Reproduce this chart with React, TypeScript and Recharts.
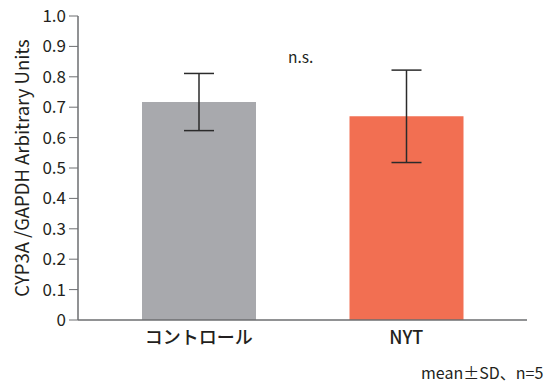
import React from 'react';
import { BarChart, Bar, XAxis, YAxis, ErrorBar, Cell } from 'recharts';

const groups = ['コントロール', 'NYT'];
const means = [0.717, 0.67];
const sds = [0.094, 0.152];
const barColors = ['#a8a9ad', '#f26f52'];
const yTicks = [0, 0.1, 0.2, 0.3, 0.4, 0.5, 0.6, 0.7, 0.8, 0.9, 1.0];

const data = groups.map((name, i) => ({ name, mean: means[i], sd: sds[i] }));

const font = '"Noto Sans CJK JP", "Noto Sans", sans-serif';
const textColor = '#231f20';

const fmtTick = (v: number) => (v === 0 ? '0' : v.toFixed(1));

const YLabel = () => (
  <text
    x={21}
    y={168}
    transform="rotate(-90, 21, 168)"
    textAnchor="middle"
    dominantBaseline="central"
    fontSize={18.5}
    fill={textColor}
    fontFamily={font}
  >
    CYP3A /GAPDH Arbitrary Units
  </text>
);

const App: React.FC = () => {
  return (
    <div style={{ position: 'absolute', left: 0, top: 0, width: 557, height: 385, background: '#fff', fontFamily: font, overflow: 'hidden' }}>
      <BarChart
        width={557}
        height={385}
        data={data}
        margin={{ top: 16, right: 30, left: 0, bottom: 35 }}
      >
        <XAxis
          dataKey="name"
          padding={{ left: 17, right: 17 }}
          tickLine={false}
          axisLine={{ stroke: '#6d6e71', strokeWidth: 1.5 }}
          tick={{ fill: textColor, fontSize: 18, fontWeight: 500, fontFamily: font }}
          tickMargin={5}
          height={30}
        />
        <YAxis
          domain={[0, 1]}
          ticks={yTicks}
          tickFormatter={fmtTick}
          width={78}
          axisLine={{ stroke: '#6d6e71', strokeWidth: 1.5 }}
          tickLine={{ stroke: '#6d6e71' }}
          tickSize={9}
          tickMargin={3}
          tick={{ fill: textColor, fontSize: 17, fontFamily: font }}
          label={<YLabel />}
        />
        <Bar dataKey="mean" barSize={114} isAnimationActive={false}>
          {data.map((d, i) => (
            <Cell key={d.name} fill={barColors[i]} />
          ))}
          <ErrorBar dataKey="sd" width={15} stroke="#2b2b2b" strokeWidth={1.5} direction="y" />
        </Bar>
      </BarChart>
      <div style={{ position: 'absolute', left: 288, top: 45, fontSize: 15.5, color: textColor }}>n.s.</div>
      <div style={{ position: 'absolute', left: 421, top: 362, fontSize: 16, lineHeight: '20px', color: textColor, whiteSpace: 'nowrap' }}>mean±SD、n=5</div>
    </div>
  );
};

export default App;
